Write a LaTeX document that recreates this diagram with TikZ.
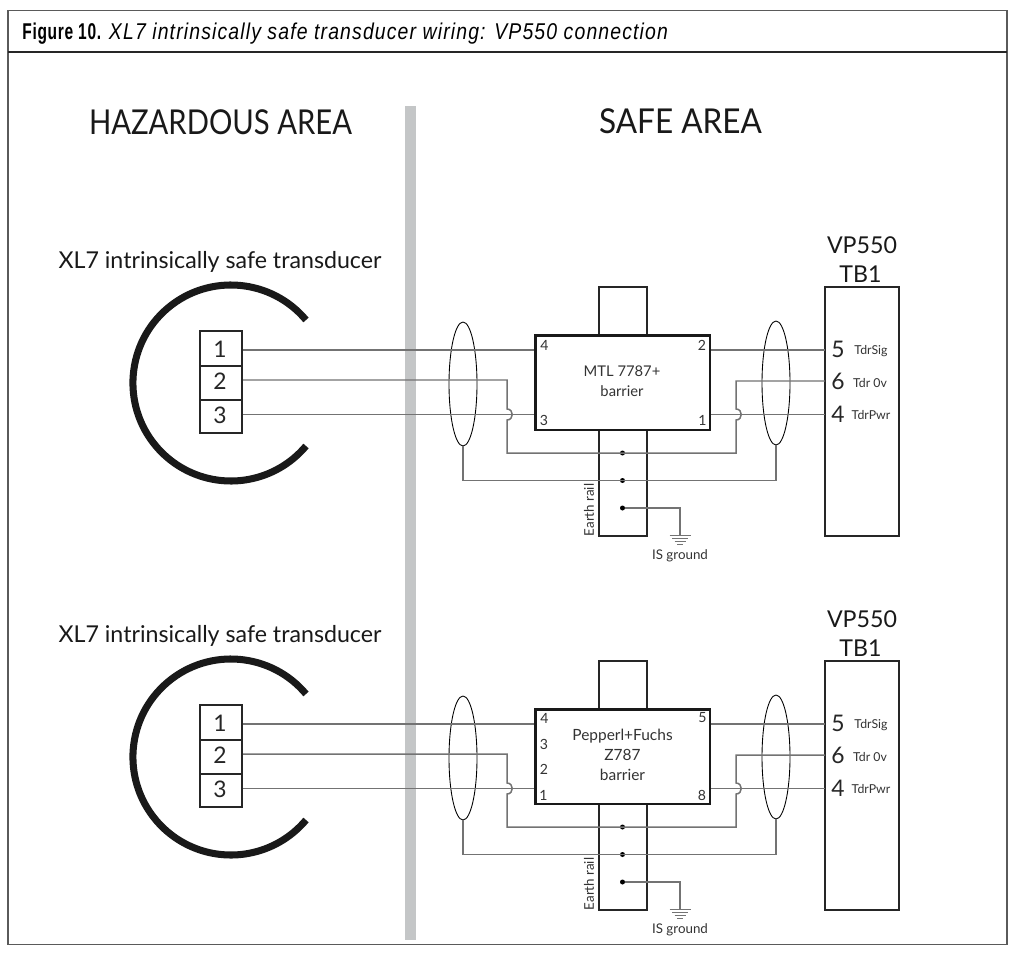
\documentclass[tikz,border=0pt]{standalone}
\usepackage{fontspec}
\usetikzlibrary{shapes.geometric}
\setmainfont{Lato}
\newfontfamily\boldcond[FakeStretch=0.68,LetterSpace=3]{Liberation Sans Bold}
\newfontfamily\italcond[FakeStretch=0.85,LetterSpace=5]{Liberation Sans Italic}
\newfontfamily\hazardfont[FakeStretch=0.853]{Lato}
\newfontfamily\safefont[FakeStretch=0.92]{Lato}

\tikzset{
	wire/.style={wiregray, line width=0.85pt},
	outline/.style={draw=black!85, line width=0.8pt},
	shield/.style={draw=black, line width=0.5pt, ellipse, inner sep=0pt, minimum width=0.56cm, minimum height=2.48cm},
	barrierbox/.style={draw=black!90, fill=white, line width=1.7pt, inner sep=0pt, minimum width=3.5cm, minimum height=1.9cm},
	railbox/.style={outline, inner sep=0pt, minimum width=0.96cm, minimum height=4.98cm},
	tbbox/.style={draw=black!85, line width=1.2pt, inner sep=0pt, minimum width=1.48cm, minimum height=4.98cm},
	termbox/.style={outline, inner sep=0pt, minimum width=0.84cm},
	jointdot/.style={circle, fill=black, inner sep=0pt, minimum size=0.1cm},
	pinlabel/.style={font=\fontsize{8}{10}\selectfont, text=black!80, inner sep=0pt},
	gndlabel/.style={font=\fontsize{7.6}{10}\selectfont, text=black!80, inner sep=0pt},
	textlabel/.style={font=\fontsize{8.4}{11.3}\selectfont, text=black!80, align=center, inner sep=0pt},
	smalllabel/.style={font=\fontsize{7}{9}\selectfont, text=black!80, inner sep=0pt},
	numlabel/.style={font=\fontsize{13}{15}\selectfont, text=black!85, inner sep=0pt},
	namelabel/.style={font=\fontsize{13.2}{16}\selectfont, text=black!90, inner sep=0pt},
	arealabel/.style={font=\fontsize{19.5}{22}\selectfont, text=black!90, inner sep=0pt},
}

\begin{document}
\begin{tikzpicture}[x=0.02cm, y=-0.02cm]
	\definecolor{wiregray}{RGB}{115,115,115}
	\definecolor{framegray}{RGB}{90,90,90}
	\definecolor{bargray}{RGB}{196,198,199}

	\useasboundingbox (0,0) rectangle (1020,956);
	\fill[white] (0,0) rectangle (1020,956);

	% frame and title
	\draw[framegray, line width=0.8pt] (8,10.5) rectangle (1007,944.5);
	\draw[black!85, line width=0.7pt] (8,52) -- (1007,52);
	\node[anchor=base west, inner sep=0pt, font=\fontsize{13}{15}\selectfont] (title) at (22,40) {{\boldcond Figure 10.} {\italcond XL7 intrinsically safe transducer wiring: VP550 connection}};

	\fill[bargray] (405,106) rectangle (416,940);
	\node[arealabel] (hazard) at (220.5,122) {\hazardfont HAZARDOUS AREA};
	\node[arealabel] (safe) at (680.5,121) {\safefont SAFE AREA};

	\foreach \k/\dy in {a/0,b/374} {
		\node[namelabel] (xl\k) at (220,261.5+\dy) {XL7 intrinsically safe transducer};
		\draw[black!90, line width=4pt] (306,320+\dy) arc [start angle=-40, end angle=-320, radius=98];

		% transducer terminals
		\node[termbox, minimum height=0.7cm] (one\k) at (221,348.5+\dy) {};
		\node[termbox, minimum height=0.68cm] (two\k) at (221,383+\dy) {};
		\node[termbox, minimum height=0.66cm] (three\k) at (221,416.5+\dy) {};
		\node[numlabel] (numone\k) at (220,349+\dy) {1};
		\node[numlabel] (numtwo\k) at (220,381+\dy) {2};
		\node[numlabel] (numthree\k) at (220,415+\dy) {3};

		\node[railbox] (rail\k) at (623,411.5+\dy) {};
		\node[barrierbox] (barrier\k) at (622.5,382.5+\dy) {};
		\node[tbbox] (tb\k) at (862,411.5+\dy) {};
		\node[shield] (shieldl\k) at (463,384+\dy) {};
		\node[shield] (shieldr\k) at (776,383+\dy) {};

		\coordinate (ina\k) at (243,350+\dy);
		\coordinate (inb\k) at (243,380+\dy);
		\coordinate (inc\k) at (243,414.5+\dy);
		\coordinate (outa\k) at (825,350+\dy);
		\coordinate (outb\k) at (825,381+\dy);
		\coordinate (outc\k) at (825,414.5+\dy);

		% wires
		\draw[wire] (ina\k) -- (ina\k -| barrier\k.west);
		\draw[wire] (inc\k) -- (inc\k -| barrier\k.west);
		\draw[wire] (outa\k) -- (outa\k -| barrier\k.east);
		\draw[wire] (outc\k) -- (outc\k -| barrier\k.east);

		\node[jointdot] (dotsig\k) at (622.5,453+\dy) {};
		\node[jointdot] (dotshield\k) at (622.5,480.5+\dy) {};
		\node[jointdot] (dotgnd\k) at (622.5,508+\dy) {};

		\draw[wire] (inb\k) -- (507,380+\dy) -- (507,409+\dy) .. controls (514,409+\dy) and (514,420+\dy) .. (507,420+\dy) -- (507,453+\dy) -- (736,453+\dy) -- (736,420+\dy) .. controls (743,420+\dy) and (743,409+\dy) .. (736,409+\dy) -- (736,381+\dy) -- (outb\k);
		\draw[wire] (shieldl\k.south) -- (shieldl\k.south |- dotshield\k) -- (shieldr\k.south |- dotshield\k) -- (shieldr\k.south);

		% ground
		\coordinate (gnd\k) at (680,535.5+\dy);
		\draw[wire] (dotgnd\k) -- (gnd\k |- dotgnd\k) -- (gnd\k);
		\draw[wire] (669.5,535.5+\dy) -- (690.5,535.5+\dy);
		\draw[wire, line width=0.6pt] (672,538.5+\dy) -- (688,538.5+\dy);
		\draw[wire, line width=0.5pt] (674.5,541.5+\dy) -- (685.5,541.5+\dy);
		\draw[wire, line width=0.4pt] (677,544+\dy) -- (683,544+\dy);
		\node[gndlabel] (isgnd\k) at (680,556+\dy) {IS ground};
		\node[gndlabel, rotate=90] (earth\k) at (589,510+\dy) {Earth rail};

		% right terminals
		\node[namelabel] (vp\k) at (862,245+\dy) {VP550};
		\node[namelabel] (tbone\k) at (860.5,274+\dy) {TB1};
		\node[numlabel] (fivenum\k) at (838,349.5+\dy) {5};
		\node[numlabel] (sixnum\k) at (838,381.5+\dy) {6};
		\node[numlabel] (fournum\k) at (838,414+\dy) {4};
		\node[smalllabel] (sig\k) at (871,351+\dy) {TdrSig};
		\node[smalllabel] (zero\k) at (870,383+\dy) {Tdr 0v};
		\node[smalllabel] (pwr\k) at (871,415+\dy) {TdrPwr};
	}

	% barrier MTL
	\node[textlabel] (mtl) at (622,381) {MTL 7787+\\barrier};
	\node[pinlabel] (pinfoura) at (544.5,345.5) {4};
	\node[pinlabel] (pintwoa) at (702,345.5) {2};
	\node[pinlabel] (pinthreea) at (544,420) {3};
	\node[pinlabel] (pinonea) at (702.5,420) {1};

	% barrier Pepperl
	\node[textlabel, font=\fontsize{8.8}{11.3}\selectfont] (fuchs) at (622.5,755) {Pepperl+Fuchs\\Z787\\barrier};
	\node[pinlabel] (pinfourb) at (544.5,718) {4};
	\node[pinlabel] (pinthreeb) at (544,744) {3};
	\node[pinlabel] (pintwob) at (544,769.5) {2};
	\node[pinlabel] (pinoneb) at (543.5,795) {1};
	\node[pinlabel] (pinfiveb) at (702.5,718) {5};
	\node[pinlabel] (pineightb) at (702,795) {8};
\end{tikzpicture}
\end{document}
